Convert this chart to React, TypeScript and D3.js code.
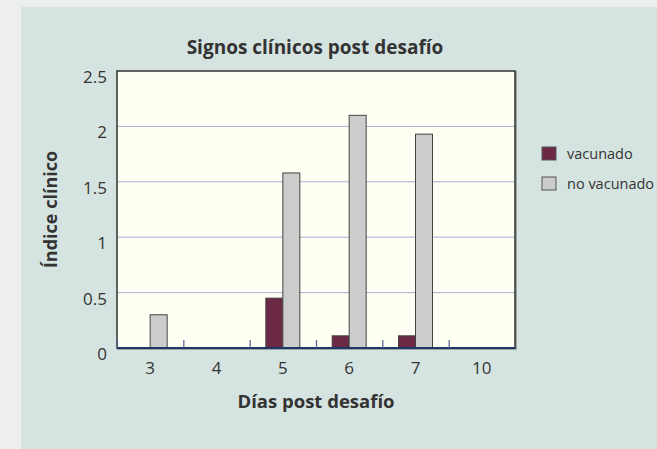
import * as d3 from 'd3';
import {useEffect, useRef} from 'react';

const width = 657;
const height = 449;

const days = ['3', '4', '5', '6', '7', '10'];
const series = ['vacunado', 'no vacunado'];
const vacunado = [0, 0, 0.45, 0.11, 0.11, 0];
const noVacunado = [0.3, 0, 1.58, 2.1, 1.93, 0];
const yTicks = [0, 0.5, 1, 1.5, 2, 2.5];
const colors = ['#6b2946', '#cccccc'];

const font = '"Open Sans", "DejaVu Sans", sans-serif';

function App() {
  const ref = useRef<SVGSVGElement>(null);

  useEffect(() => {
    const svg = d3.select(ref.current);
    svg.selectAll('*').remove();

    const m = {left: 117, right: 515, top: 71, bottom: 348};

    const x = d3.scaleBand().domain(days).range([m.left, m.right]).padding(0);
    const y = d3.scaleLinear().domain([0, 2.5]).range([m.bottom, m.top]);
    const barW = 17;
    const inner = d3.scaleBand().domain(series).range([-barW, barW]);

    // page + panel
    svg.append('rect').attr('width', width).attr('height', height).attr('fill', '#edefef');
    svg.append('rect').attr('x', 21).attr('y', 7).attr('width', width - 21).attr('height', height - 7)
      .attr('fill', '#d6e4e1');

    // plot area
    svg.append('rect')
      .attr('x', m.left + 1).attr('y', m.top + 1)
      .attr('width', m.right - m.left).attr('height', m.bottom - m.top)
      .attr('fill', 'none').attr('stroke', '#9aa6a4').attr('stroke-width', 2);
    svg.append('rect')
      .attr('x', m.left).attr('y', m.top)
      .attr('width', m.right - m.left).attr('height', m.bottom - m.top)
      .attr('fill', '#fffff4');

    // grid
    svg.append('g').selectAll('line')
      .data(yTicks.filter(t => t > 0 && t < 2.5))
      .join('line')
      .attr('x1', m.left).attr('x2', m.right)
      .attr('y1', d => y(d)).attr('y2', d => y(d))
      .attr('stroke', '#a9aed8').attr('stroke-width', 1);

    // bars
    const rows = days.map((d, i) => ({day: d, vals: [vacunado[i], noVacunado[i]]}));
    const grp = svg.append('g');
    rows.forEach(r => {
      const cx = x(r.day)! + x.bandwidth() / 2;
      r.vals.forEach((v, j) => {
        if (v <= 0) return;
        grp.append('rect')
          .attr('x', cx + inner(series[j])!)
          .attr('y', y(v))
          .attr('width', inner.bandwidth())
          .attr('height', y(0) - y(v))
          .attr('fill', colors[j])
          .attr('stroke', '#444')
          .attr('stroke-width', 1);
      });
    });

    // frame
    svg.append('rect')
      .attr('x', m.left).attr('y', m.top)
      .attr('width', m.right - m.left).attr('height', m.bottom - m.top)
      .attr('fill', 'none').attr('stroke', '#3d3d3d').attr('stroke-width', 1.6);

    // x axis line + ticks
    svg.append('line')
      .attr('x1', m.left).attr('x2', m.right)
      .attr('y1', m.bottom).attr('y2', m.bottom)
      .attr('stroke', '#1f3764').attr('stroke-width', 2);
    const bounds = days.map(d => x(d)!);
    svg.append('g').selectAll('line')
      .data(bounds)
      .join('line')
      .attr('x1', d => d + 0.5).attr('x2', d => d + 0.5)
      .attr('y1', m.bottom).attr('y2', m.bottom - 8)
      .attr('stroke', '#4a6090').attr('stroke-width', 1.2);

    // x tick labels
    svg.append('g').selectAll('text')
      .data(days)
      .join('text')
      .attr('x', d => x(d)! + x.bandwidth() / 2)
      .attr('y', 374)
      .attr('text-anchor', 'middle')
      .attr('font-family', font).attr('font-size', 17).attr('fill', '#333')
      .text(d => d);

    // y tick labels
    svg.append('g').selectAll('text')
      .data(yTicks)
      .join('text')
      .attr('x', 107)
      .attr('y', d => y(d) + 12)
      .attr('text-anchor', 'end')
      .attr('font-family', font).attr('font-size', 17).attr('fill', '#333')
      .text(d => String(d));

    // titles
    svg.append('text')
      .attr('x', 315).attr('y', 54)
      .attr('text-anchor', 'middle')
      .attr('font-family', font).attr('font-size', 19).attr('font-weight', 'bold').attr('fill', '#333')
      .text('Signos clínicos post desafío');
    svg.append('text')
      .attr('x', 316).attr('y', 408)
      .attr('text-anchor', 'middle')
      .attr('font-family', font).attr('font-size', 18.5).attr('font-weight', 'bold').attr('fill', '#333')
      .text('Días post desafío');
    svg.append('text')
      .attr('transform', `translate(57, ${(m.top + m.bottom) / 2}) rotate(-90)`)
      .attr('text-anchor', 'middle')
      .attr('font-family', font).attr('font-size', 18).attr('font-weight', 'bold').attr('fill', '#333')
      .text('Índice clínico');

    // legend
    const leg = svg.append('g').attr('transform', 'translate(542, 147)');
    series.forEach((s, i) => {
      const g = leg.append('g').attr('transform', `translate(0, ${i * 30})`);
      g.append('rect').attr('width', 14).attr('height', 13)
        .attr('fill', colors[i]).attr('stroke', '#555').attr('stroke-width', 1);
      g.append('text').attr('x', 25).attr('y', 11.5)
        .attr('font-family', font).attr('font-size', 14.5).attr('fill', '#333')
        .text(s);
    });
  }, []);

  return (
    <svg ref={ref} width={width} height={height}
      style={{position: 'absolute', left: 0, top: 0, display: 'block'}} />
  );
}

export default App;
